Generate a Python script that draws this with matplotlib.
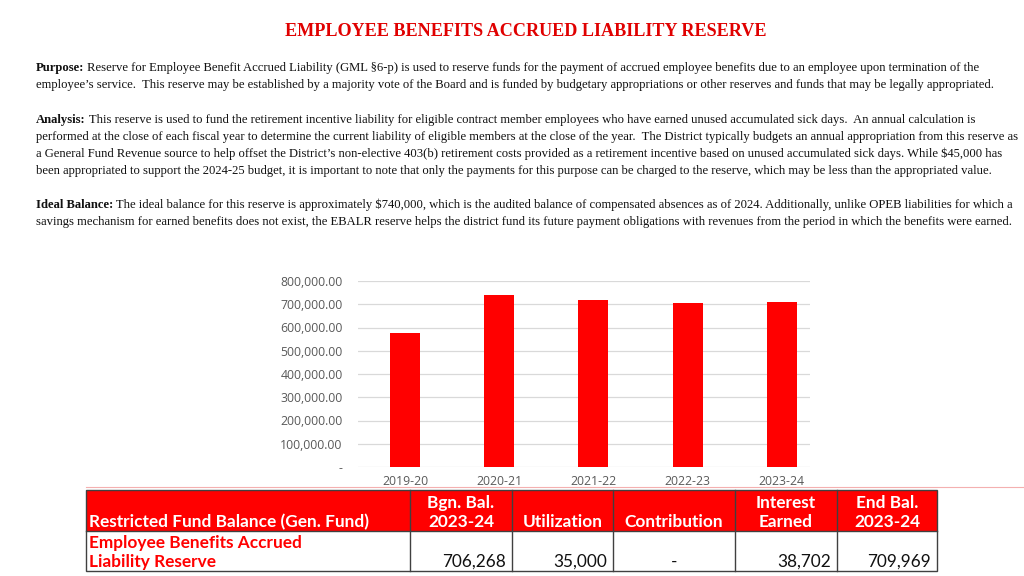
import matplotlib.pyplot as plt
from matplotlib.patches import Rectangle
from matplotlib.ticker import FuncFormatter

# chart data
years = ["2019-20", "2020-21", "2021-22", "2022-23", "2023-24"]
balances = [575000, 740000, 720000, 706268, 709969]

# table data
table_header = ["Restricted Fund Balance (Gen. Fund)", "Bgn. Bal.\n2023-24", "Utilization",
                "Contribution", "Interest\nEarned", "End Bal.\n2023-24"]
table_row = ["Employee Benefits Accrued\nLiability Reserve", "706,268", "35,000", "-", "38,702", "709,969"]
col_edges = [86, 410, 512, 613, 735, 837, 937]

title = "EMPLOYEE BENEFITS ACCRUED LIABILITY RESERVE"
paragraphs = [
    ("Purpose:", [
        " Reserve for Employee Benefit Accrued Liability (GML §6-p) is used to reserve funds for the payment of accrued employee benefits due to an employee upon termination of the",
        "employee’s service.  This reserve may be established by a majority vote of the Board and is funded by budgetary appropriations or other reserves and funds that may be legally appropriated.",
    ]),
    ("Analysis:", [
        " This reserve is used to fund the retirement incentive liability for eligible contract member employees who have earned unused accumulated sick days.  An annual calculation is",
        "performed at the close of each fiscal year to determine the current liability of eligible members at the close of the year.  The District typically budgets an annual appropriation from this reserve as",
        "a General Fund Revenue source to help offset the District’s non-elective 403(b) retirement costs provided as a retirement incentive based on unused accumulated sick days. While \\$45,000 has",
        "been appropriated to support the 2024-25 budget, it is important to note that only the payments for this purpose can be charged to the reserve, which may be less than the appropriated value.",
    ]),
    ("Ideal Balance:", [
        " The ideal balance for this reserve is approximately \\$740,000, which is the audited balance of compensated absences as of 2024. Additionally, unlike OPEB liabilities for which a",
        "savings mechanism for earned benefits does not exist, the EBALR reserve helps the district fund its future payment obligations with revenues from the period in which the benefits were earned.",
    ]),
]
para_y = [68, 120, 205]

RED = "#ff0000"
SERIF = "Liberation Serif"
SANS = "Lato"

fig = plt.figure(figsize=(10.24, 5.76), dpi=100)

# overlay in pixel coordinates for text and table
ov = fig.add_axes([0, 0, 1, 1])
ov.set_xlim(0, 1024)
ov.set_ylim(576, 0)
ov.axis("off")

ov.text(526, 32, title, color="#e00000", fontsize=13.1, fontweight="bold",
        family=SERIF, ha="center", va="center")

renderer = fig.canvas.get_renderer()
line_h = 17
body_size = 9.05
for (label, lines), y0 in zip(paragraphs, para_y):
    t = ov.text(36, y0, label, fontsize=body_size, fontweight="bold", family=SERIF,
                color="#111111", va="center")
    x_end = t.get_window_extent(renderer).x1
    for i, line in enumerate(lines):
        x = x_end if i == 0 else 36
        ov.text(x, y0 + i * line_h, line, fontsize=body_size, family=SERIF,
                color="#111111", va="center")

# bar chart
ax = fig.add_axes([358 / 1024, 1 - 467 / 576, (810 - 358) / 1024, (467 - 281) / 576])
x = range(len(years))
ax.bar(x, balances, width=0.32, color=RED, zorder=3)
ax.set_ylim(0, 800000)
ax.set_xlim(-0.5, 4.3)
ax.set_yticks(range(0, 800001, 100000))
ax.yaxis.set_major_formatter(FuncFormatter(lambda v, p: "-" if v == 0 else f"{v:,.2f}"))
ax.set_xticks(list(x))
ax.set_xticklabels(years)
ax.grid(axis="y", color="#d9d9d9", linewidth=0.9, zorder=0)
for s in ax.spines.values():
    s.set_visible(False)
ax.tick_params(length=0, labelsize=8.8, labelcolor="#595959")
for lab in ax.get_xticklabels() + ax.get_yticklabels():
    lab.set_family("Open Sans")
ax.tick_params(axis="y", pad=11)
ax.tick_params(axis="x", pad=6)

# thin pink separator above table
ov.plot([86, 1024], [487, 487], color="#f4b0b0", linewidth=0.8)

# table
top, mid, bot = 490, 531, 571
ov.add_patch(Rectangle((col_edges[0], top), col_edges[-1] - col_edges[0], mid - top,
                       facecolor=RED, edgecolor="none"))
ov.add_patch(Rectangle((col_edges[0], top), col_edges[-1] - col_edges[0], bot - top,
                       facecolor="none", edgecolor="#404040", linewidth=1))
ov.plot([col_edges[0], col_edges[-1]], [mid, mid], color="#404040", linewidth=1)
for xe in col_edges[1:-1]:
    ov.plot([xe, xe], [top, bot], color="#404040", linewidth=1)

hdr_size = 12.4
for i, h in enumerate(table_header):
    if i == 0:
        ov.text(col_edges[0] + 3, mid - 1, h, color="white", fontsize=hdr_size,
                fontweight="bold", family=SANS, ha="left", va="bottom")
    else:
        cx = (col_edges[i] + col_edges[i + 1]) / 2
        ov.text(cx, mid - 1, h, color="white", fontsize=hdr_size, fontweight="bold",
                family=SANS, ha="center", va="bottom", multialignment="center",
                linespacing=1.22)

for i, v in enumerate(table_row):
    if i == 0:
        ov.text(col_edges[0] + 3, bot - 1, v, color=RED, fontsize=hdr_size,
                fontweight="bold", family=SANS, ha="left", va="bottom", linespacing=1.22)
    elif v == "-":
        cx = (col_edges[i] + col_edges[i + 1]) / 2
        ov.text(cx, bot - 1, v, color="#111111", fontsize=hdr_size, family=SANS,
                ha="center", va="bottom")
    else:
        ov.text(col_edges[i + 1] - 6, bot - 1, v, color="#111111", fontsize=hdr_size,
                family=SANS, ha="right", va="bottom")

fig.savefig("out.png", dpi=100)
